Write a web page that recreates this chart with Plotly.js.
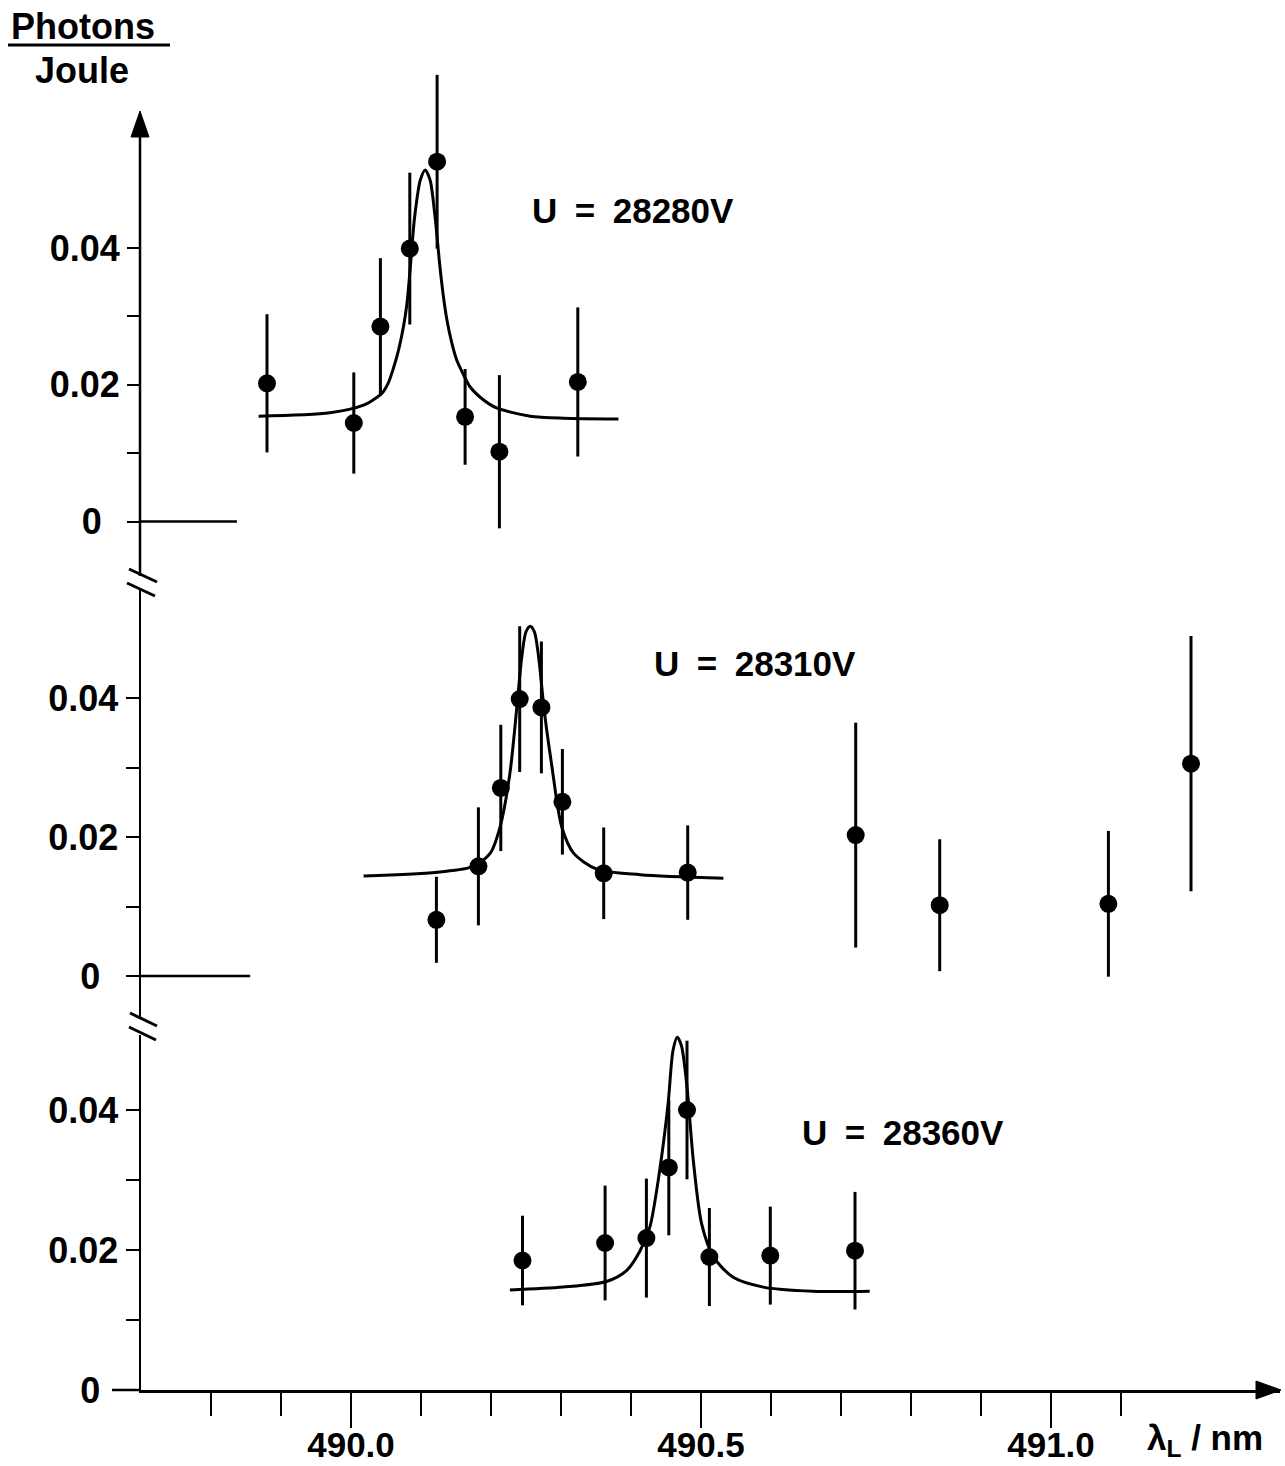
<!DOCTYPE html>
<html>
<head>
<meta charset="utf-8">
<script src="https://cdn.plot.ly/plotly-3.0.1.min.js"></script>
<style>html,body{margin:0;padding:0;background:#fff;}#chart{width:1285px;height:1466px;}</style>
</head>
<body>
<div id="chart"></div>
<script>
// ---------- data ----------
// Panel U = 28280V
const lambdaTop  = [489.880, 490.004, 490.042, 490.084, 490.123, 490.163, 490.212, 490.324];
const photonsTop = [0.0202, 0.0144, 0.0285, 0.0399, 0.0526, 0.0153, 0.0102, 0.0204];
const errTop     = [0.0101, 0.0074, 0.0100, 0.0111, 0.0127, 0.0070, 0.0112, 0.0109];
const fitLambdaTop = [489.868, 489.970, 490.018, 490.032, 490.044, 490.053, 490.060, 490.068, 490.075, 490.080, 490.084, 490.091, 490.099, 490.106, 490.113, 490.120, 490.127, 490.132, 490.137, 490.144, 490.151, 490.161, 490.170, 490.189, 490.208, 490.256, 490.303, 490.382];
const fitTop       = [0.0154, 0.0159, 0.0170, 0.0178, 0.0187, 0.0202, 0.0222, 0.0251, 0.0285, 0.0319, 0.0363, 0.0446, 0.0499, 0.0514, 0.0499, 0.0446, 0.0373, 0.0329, 0.0295, 0.0261, 0.0236, 0.0214, 0.0197, 0.0178, 0.0166, 0.0154, 0.0151, 0.0150];

// Panel U = 28310V
const lambdaMid  = [490.122, 490.182, 490.214, 490.241, 490.272, 490.302, 490.361, 490.481, 490.721, 490.841, 491.082, 491.200];
const photonsMid = [0.0081, 0.0158, 0.0271, 0.0399, 0.0387, 0.0251, 0.0148, 0.0149, 0.0203, 0.0102, 0.0104, 0.0306];
const errMid     = [0.0062, 0.0085, 0.0091, 0.0105, 0.0095, 0.0076, 0.0066, 0.0068, 0.0162, 0.0095, 0.0105, 0.0184];
const fitLambdaMid = [490.018, 490.127, 490.175, 490.199, 490.213, 490.227, 490.237, 490.244, 490.250, 490.256, 490.262, 490.268, 490.276, 490.287, 490.301, 490.318, 490.351, 490.413, 490.532];
const fitMid       = [0.0144, 0.0150, 0.0158, 0.0177, 0.0215, 0.0292, 0.0388, 0.0460, 0.0496, 0.0504, 0.0496, 0.0460, 0.0383, 0.0302, 0.0215, 0.0177, 0.0154, 0.0146, 0.0141];

// Panel U = 28360V
const lambdaBot  = [490.245, 490.363, 490.422, 490.454, 490.480, 490.512, 490.599, 490.720];
const photonsBot = [0.0185, 0.0210, 0.0217, 0.0318, 0.0400, 0.0190, 0.0192, 0.0199];
const errBot     = [0.0064, 0.0082, 0.0085, 0.0097, 0.0099, 0.0070, 0.0070, 0.0084];
const fitLambdaBot = [490.227, 490.303, 490.365, 490.394, 490.413, 490.427, 490.441, 490.453, 490.460, 490.466, 490.472, 490.480, 490.489, 490.501, 490.518, 490.546, 490.589, 490.660, 490.741];
const fitBot       = [0.0143, 0.0147, 0.0155, 0.0171, 0.0199, 0.0233, 0.0314, 0.0409, 0.0485, 0.0504, 0.0492, 0.0433, 0.0328, 0.0237, 0.0190, 0.0161, 0.0147, 0.0141, 0.0141];

const panelLabels = ['U\u2002=\u200228280V', 'U\u2002=\u200228310V', 'U\u2002=\u200228360V'];
const labelLambda = [490.256, 490.430, 490.641];
const labelY      = [0.0455, 0.0451, 0.0368];

const xTickVals  = [490.0, 490.5, 491.0];
const xTickText  = ['490.0', '490.5', '491.0'];
const xMinorVals = [489.8, 489.9, 490.1, 490.2, 490.3, 490.4, 490.6, 490.7, 490.8, 490.9, 491.1];
const yTickVals  = [0, 0.02, 0.04];
const yTickText  = ['0\u2002', '0.02', '0.04'];
const yMinorVals = [0.01, 0.03];

// ---------- layout geometry ----------
const W = 1285, H = 1466;
const L = 141, R = 5, T = 40, B = 76;
const PW = W - L - R, PH = H - T - B;
const pxX = x => (x - L) / PW;            // pixel -> paper x
const pxY = y => (H - B - y) / PH;        // pixel -> paper y
const xPerPx = 1 / 700;
const xRange = [489.7, 489.7 + PW * xPerPx];
function yr(zeroPx, ppu, topPx, botPx) { return [(zeroPx - botPx) / ppu, (zeroPx - topPx) / ppu]; }

const FONT = 'Liberation Sans, Arial, Helvetica, sans-serif';
const black = '#000';

function yaxisDef(domTop, domBot, range, line) {
  return {
    domain: [pxY(domBot), pxY(domTop)], range: range, anchor: 'x',
    showline: line, linecolor: black, linewidth: 2.5, zeroline: false, showgrid: false,
    ticks: 'outside', ticklen: 13, tickwidth: 2, tickcolor: black,
    tickmode: 'array', tickvals: yTickVals, ticktext: yTickText,
    ticklabelstandoff: 0,
    tickfont: {family: FONT, size: 36, color: black, weight: 700},
    minor: {tickmode: 'array', tickvals: yMinorVals, ticks: 'outside', ticklen: 13, tickwidth: 2, tickcolor: black, showgrid: false}
  };
}

const pts = (x, y, e, ya) => ({
  x: x, y: y, yaxis: ya, xaxis: 'x', type: 'scatter', mode: 'markers', cliponaxis: false,
  marker: {color: black, size: 18},
  error_y: {type: 'data', array: e, visible: true, color: black, thickness: 3, width: 0},
  hoverinfo: 'skip'
});
const fit = (x, y, ya) => ({
  x: x, y: y, yaxis: ya, xaxis: 'x', type: 'scatter', mode: 'lines',
  line: {color: black, width: 3, shape: 'spline', smoothing: 0.8}, hoverinfo: 'skip'
});

const data = [
  fit(fitLambdaTop, fitTop, 'y'), pts(lambdaTop, photonsTop, errTop, 'y'),
  fit(fitLambdaMid, fitMid, 'y2'), pts(lambdaMid, photonsMid, errMid, 'y2'),
  fit(fitLambdaBot, fitBot, 'y3'), pts(lambdaBot, photonsBot, errBot, 'y3')
];

const ln = (x0, y0, x1, y1, w) => ({type: 'line', xref: 'paper', yref: 'paper',
  x0: pxX(x0), y0: pxY(y0), x1: pxX(x1), y1: pxY(y1), line: {color: black, width: w || 3}});
const tri = pts3 => ({type: 'path', xref: 'paper', yref: 'paper',
  path: 'M ' + pts3.map(p => pxX(p[0]) + ',' + pxY(p[1])).join(' L ') + ' Z',
  fillcolor: black, line: {color: black, width: 1}});

const shapes = [
  {type: 'line', xref: 'x', yref: 'y', x0: 489.7, x1: 489.837, y0: 0, y1: 0, line: {color: black, width: 2.5}},
  {type: 'line', xref: 'x', yref: 'y2', x0: 489.7, x1: 489.856, y0: 0, y1: 0, line: {color: black, width: 2.5}},
  ln(140, 576, 140, 136, 2.5),
  ln(112, 1390, 141, 1390, 2.5),
  tri([[131, 137], [140, 111], [149, 137]]),
  tri([[1256, 1381], [1281, 1390], [1256, 1399]]),
  ln(129, 569, 157, 582), ln(127, 583, 155, 596),
  ln(130, 1013, 157, 1026), ln(129, 1027, 156, 1040),
  ln(8, 45, 170, 45, 3)
];

const annFont = {family: FONT, size: 35, color: black, weight: 700};
const annotations = [
  {xref: 'paper', yref: 'paper', x: pxX(9), y: pxY(26), xanchor: 'left', yanchor: 'middle', showarrow: false,
   text: 'Photons', font: {family: FONT, size: 36, color: black, weight: 700}},
  {xref: 'paper', yref: 'paper', x: pxX(33), y: pxY(70), xanchor: 'left', yanchor: 'middle', showarrow: false,
   text: 'Joule', font: {family: FONT, size: 36, color: black, weight: 700}},
  {xref: 'paper', yref: 'paper', x: pxX(1145), y: pxY(1440), xanchor: 'left', yanchor: 'middle', showarrow: false,
   text: '\u03bb<sub>L</sub> / nm', font: {family: FONT, size: 35, color: black, weight: 700}}
];
['y', 'y2', 'y3'].forEach((ya, i) => annotations.push({
  xref: 'x', yref: ya, x: labelLambda[i], y: labelY[i], xanchor: 'left', yanchor: 'middle',
  showarrow: false, text: panelLabels[i], font: annFont
}));

const layout = {
  width: W, height: H, margin: {l: L, r: R, t: T, b: B, pad: 0},
  paper_bgcolor: '#fff', plot_bgcolor: '#fff', showlegend: false,
  xaxis: {
    domain: [0, 1], range: xRange, anchor: 'y3',
    showline: true, linecolor: black, linewidth: 2.5, zeroline: false, showgrid: false,
    ticks: 'outside', ticklen: 35, tickwidth: 2, tickcolor: black,
    tickmode: 'array', tickvals: xTickVals, ticktext: xTickText, ticklabelstandoff: -13,
    tickfont: {family: FONT, size: 35, color: black, weight: 700},
    minor: {tickmode: 'array', tickvals: xMinorVals, ticks: 'outside', ticklen: 23, tickwidth: 2, tickcolor: black, showgrid: false}
  },
  yaxis:  yaxisDef(40, 576, yr(521.5, 6840, 40, 576), false),
  yaxis2: yaxisDef(590, 1019, yr(976, 6940, 590, 1019), true),
  yaxis3: yaxisDef(1035, 1390, yr(1390, 7000, 1035, 1390), true),
  shapes: shapes, annotations: annotations
};

Plotly.newPlot('chart', data, layout, {staticPlot: true, displayModeBar: false});
</script>
</body>
</html>
